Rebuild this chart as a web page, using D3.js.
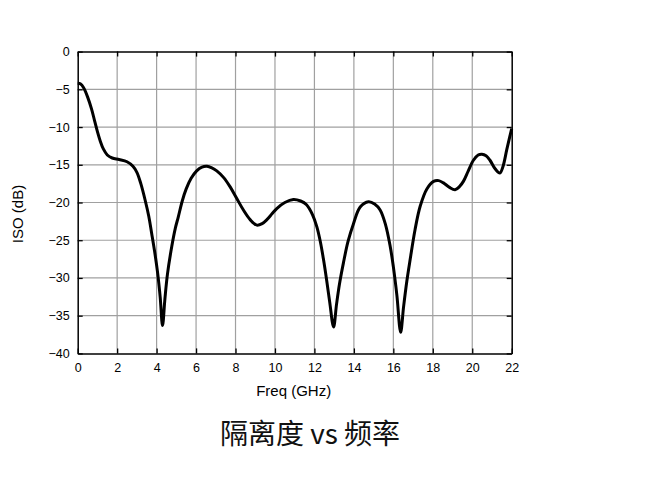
<!DOCTYPE html>
<html><head><meta charset="utf-8">
<script src="https://cdn.jsdelivr.net/npm/d3@7"></script>
<style>body{margin:0;background:#fff}svg{display:block}</style>
</head><body>
<script>
const freq = [0,0.15,0.3,0.5,0.7,0.85,1.0,1.15,1.3,1.5,1.75,2.1,2.5,2.8,3.0,3.2,3.42,3.6,3.75,3.9,4.05,4.18,4.3,4.42,4.55,4.77,4.95,5.1,5.3,5.5,5.75,6.03,6.3,6.55,6.8,7.05,7.4,7.72,8.05,8.4,8.75,9.08,9.35,9.58,9.85,10.09,10.5,10.93,11.3,11.6,11.9,12.12,12.3,12.45,12.62,12.78,12.97,13.12,13.27,13.47,13.7,13.98,14.32,14.74,15.05,15.33,15.6,15.84,16.0,16.18,16.37,16.52,16.68,16.85,17.1,17.36,17.7,18.04,18.3,18.54,18.85,19.13,19.35,19.55,19.8,20.06,20.3,20.49,20.7,20.9,21.15,21.4,21.55,21.75,21.9,22];
const iso  = [-4.2,-4.3,-4.8,-6.0,-7.6,-9.1,-10.6,-11.9,-12.9,-13.7,-14.1,-14.3,-14.6,-15.2,-16.0,-17.5,-19.7,-21.8,-24.1,-26.5,-29.3,-32.5,-36.3,-32.8,-29.5,-25.8,-23.4,-21.9,-19.8,-18.2,-16.8,-15.8,-15.3,-15.2,-15.4,-15.8,-16.7,-17.9,-19.4,-21.0,-22.3,-23.0,-22.8,-22.3,-21.5,-20.8,-20.0,-19.6,-19.8,-20.3,-21.6,-23.2,-25.2,-27.4,-30.3,-33.3,-36.5,-33.5,-30.8,-28.0,-25.2,-22.8,-20.6,-19.9,-20.2,-21.0,-22.9,-25.8,-28.5,-32.3,-37.2,-33.8,-30.5,-27.6,-23.6,-20.5,-18.2,-17.2,-17.1,-17.4,-18.0,-18.3,-17.9,-17.2,-15.8,-14.4,-13.7,-13.6,-13.8,-14.4,-15.5,-16.1,-15.3,-13.0,-11.3,-10.2];
const xTicks = [0,2,4,6,8,10,12,14,16,18,20,22];
const yTicks = [0,-5,-10,-15,-20,-25,-30,-35,-40];
const title = "隔离度 vs 频率";
const xLabel = "Freq (GHz)";
const yLabel = "ISO (dB)";

const W=667,H=478;
const L=77.7,R=511.7,T=51.6,B=353.4;
const svg=d3.select("body").append("svg").attr("width",W).attr("height",H);
const x=d3.scaleLinear().domain([0,22]).range([L,R]);
const y=d3.scaleLinear().domain([-40,0]).range([B,T]);
const font="Liberation Sans, Arial, sans-serif";

// grid
const g=svg.append("g");
g.selectAll(".vx").data(xTicks.slice(1,-1)).join("line")
 .attr("x1",d=>x(d)).attr("x2",d=>x(d)).attr("y1",T).attr("y2",B)
 .attr("stroke","#a0a0a0").attr("stroke-width",1.2);
g.selectAll(".hy").data(yTicks.slice(1,-1)).join("line")
 .attr("y1",d=>y(d)).attr("y2",d=>y(d)).attr("x1",L).attr("x2",R)
 .attr("stroke","#a0a0a0").attr("stroke-width",1.2);

// axes with inward ticks
const ax=svg.append("g").attr("transform",`translate(0,${B})`)
 .call(d3.axisBottom(x).tickValues(xTicks).tickSizeInner(-5).tickSizeOuter(0).tickPadding(10).tickFormat(d3.format("d")));
const ay=svg.append("g").attr("transform",`translate(${L},0)`)
 .call(d3.axisLeft(y).tickValues(yTicks).tickSizeInner(-5).tickSizeOuter(0).tickPadding(8).tickFormat(d3.format("d")));
const axT=svg.append("g").attr("transform",`translate(0,${T})`)
 .call(d3.axisTop(x).tickValues(xTicks).tickSizeInner(-5).tickSizeOuter(0).tickFormat(""));
const ayR=svg.append("g").attr("transform",`translate(${R},0)`)
 .call(d3.axisRight(y).tickValues(yTicks).tickSizeInner(-5).tickSizeOuter(0).tickFormat(""));
[ax,ay,axT,ayR].forEach(a=>{
  a.select(".domain").attr("stroke","#000").attr("stroke-width",1.5);
  a.selectAll(".tick line").attr("stroke","#000").attr("stroke-width",1.3);
  a.selectAll("text").attr("font-family",font).attr("font-size",12.5).attr("fill","#000");
});

// curve
const pts=freq.map((f,i)=>[f,iso[i]]);
svg.append("path").datum(pts)
 .attr("d",d3.line().x(d=>x(d[0])).y(d=>y(d[1])).curve(d3.curveCatmullRom.alpha(0.5)))
 .attr("fill","none").attr("stroke","#000").attr("stroke-width",3).attr("stroke-linejoin","round");

// labels
svg.append("text").attr("x",(L+R)/2-1).attr("y",396).attr("text-anchor","middle")
 .attr("font-family",font).attr("font-size",15).text(xLabel);
svg.append("text").attr("transform",`translate(23,214) rotate(-90)`).attr("text-anchor","middle")
 .attr("font-family",font).attr("font-size",15).text(yLabel);
svg.append("text").attr("x",310).attr("y",444).attr("text-anchor","middle")
 .attr("font-family","Noto Sans CJK SC, sans-serif").attr("font-size",28).attr("fill","#111").text(title);
</script>
</body></html>
